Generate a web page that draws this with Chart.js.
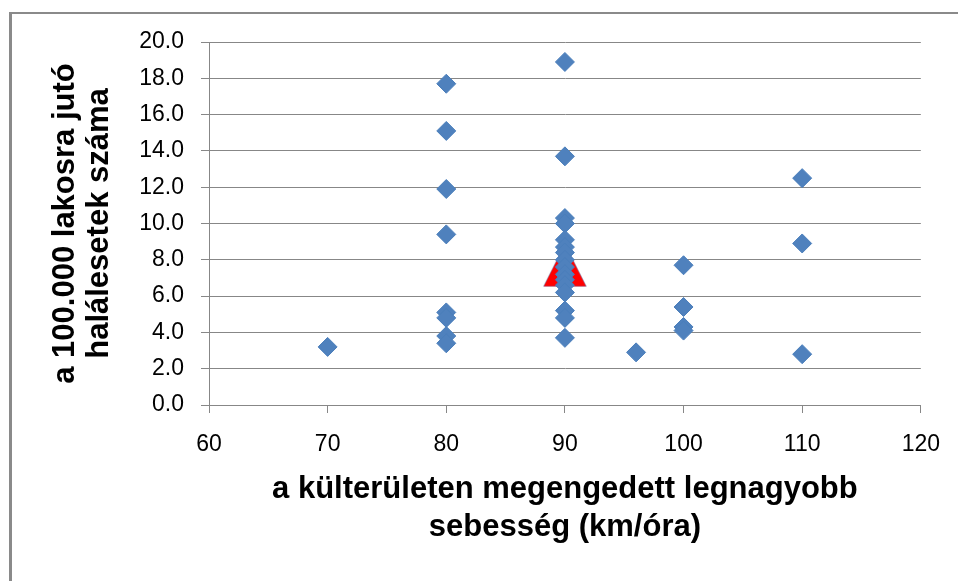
<!DOCTYPE html>
<html><head><meta charset="utf-8">
<script src="https://cdn.jsdelivr.net/npm/chart.js@4.4.1/dist/chart.umd.min.js"></script>
<style>
html,body{margin:0;padding:0;background:#fff;overflow:hidden;}
#wrap{position:relative;width:958px;height:581px;background:#fff;}
#frame{position:absolute;left:9px;top:12px;width:1200px;height:1200px;border-left:3px solid #8a8a8a;border-top:2px solid #8a8a8a;box-sizing:border-box;pointer-events:none;}
canvas{position:absolute;left:0;top:0;}
</style></head><body>
<div id="wrap"><canvas id="c" width="958" height="581"></canvas><div id="frame"></div></div>
<script>
// speed limit (km/h) -> deaths per 100,000 inhabitants
const rates70  = [3.2];
const rates80  = [17.7, 15.1, 11.9, 9.4, 5.1, 4.8, 3.8, 3.4];
const rates90  = [18.9, 13.7, 10.3, 10.0, 9.1, 8.7, 8.4, 8.0, 7.6, 7.2, 6.9, 6.6, 6.2, 5.2, 4.8, 3.7];
const rates96  = [2.9];
const rates100 = [7.7, 5.4, 4.3, 4.1];
const rates110 = [12.5, 8.9, 2.8];
const meanSpeed = [90];
const meanRate  = [7.7];
const xTicks = [60, 70, 80, 90, 100, 110, 120];
const yTicks = [0, 2, 4, 6, 8, 10, 12, 14, 16, 18, 20];
const xTitle = ['a külterületen megengedett legnagyobb', 'sebesség (km/óra)'];
const yTitle = ['a 100.000 lakosra jutó', 'halálesetek száma'];

const groups = [[70, rates70], [80, rates80], [90, rates90], [96, rates96], [100, rates100], [110, rates110]];
const points = [];
groups.forEach(([sp, arr]) => arr.forEach(v => points.push({x: sp, y: v})));
const meanPts = meanSpeed.map((s, i) => ({x: s, y: meanRate[i]}));

// red triangle marker
const tri = document.createElement('canvas');
tri.width = 44; tri.height = 44;
(function(){
  const g = tri.getContext('2d');
  g.beginPath();
  g.moveTo(22, 0.8); g.lineTo(43.4, 43.2); g.lineTo(0.6, 43.2); g.closePath();
  g.fillStyle = '#ff0000'; g.fill();
  g.strokeStyle = 'rgba(74,126,187,0.45)'; g.lineWidth = 1; g.stroke();
})();

const gridCol = '#878787';
const FONT = '"Liberation Sans", Arial, sans-serif';

new Chart(document.getElementById('c'), {
  type: 'scatter',
  data: {
    datasets: [
      {data: points, pointStyle: 'rectRot', pointRadius: 9.5, pointHoverRadius: 9.5,
       backgroundColor: '#4f81bd', borderColor: '#4a7ebb', borderWidth: 1},
      {data: meanPts, pointStyle: tri, pointRadius: 22, backgroundColor: '#ff0000', borderColor: '#ff0000'}
    ]
  },
  options: {
    responsive: false, animation: false,
    layout: {padding: {left: 12, top: 42, right: 37, bottom: 0}},
    plugins: {legend: {display: false}, tooltip: {enabled: false}},
    scales: {
      x: {
        type: 'linear', position: 'bottom', min: 60, max: 120,
        afterBuildTicks: s => { s.ticks = xTicks.map(v => ({value: v})); },
        afterFit: s => { s.height = 176; },
        grid: {drawOnChartArea: false, drawTicks: true, tickLength: 8, color: gridCol, lineWidth: 1},
        border: {display: true, color: gridCol, width: 1},
        ticks: {padding: 18, color: '#000', font: {family: FONT, size: 23}, callback: v => String(v)},
        title: {display: true, text: xTitle, color: '#000',
          font: {family: FONT, size: 31, weight: 'bold', lineHeight: 38/31},
          padding: {top: 0, bottom: 35}}
      },
      y: {
        type: 'linear', position: 'left', min: 0, max: 20,
        afterBuildTicks: s => { s.ticks = yTicks.map(v => ({value: v})); },
        afterFit: s => { s.width = 197; },
        grid: {drawOnChartArea: true, drawTicks: true, tickLength: 8, color: gridCol, lineWidth: 1},
        border: {display: true, color: gridCol, width: 1},
        ticks: {padding: 17, color: '#000', font: {family: FONT, size: 23}, callback: v => Number(v).toFixed(1)},
        title: {display: true, text: yTitle, color: '#000',
          font: {family: FONT, size: 31, weight: 'bold', lineHeight: 34/31},
          padding: {top: 36, bottom: 0}}
      }
    }
  }
});
</script>
</body></html>
